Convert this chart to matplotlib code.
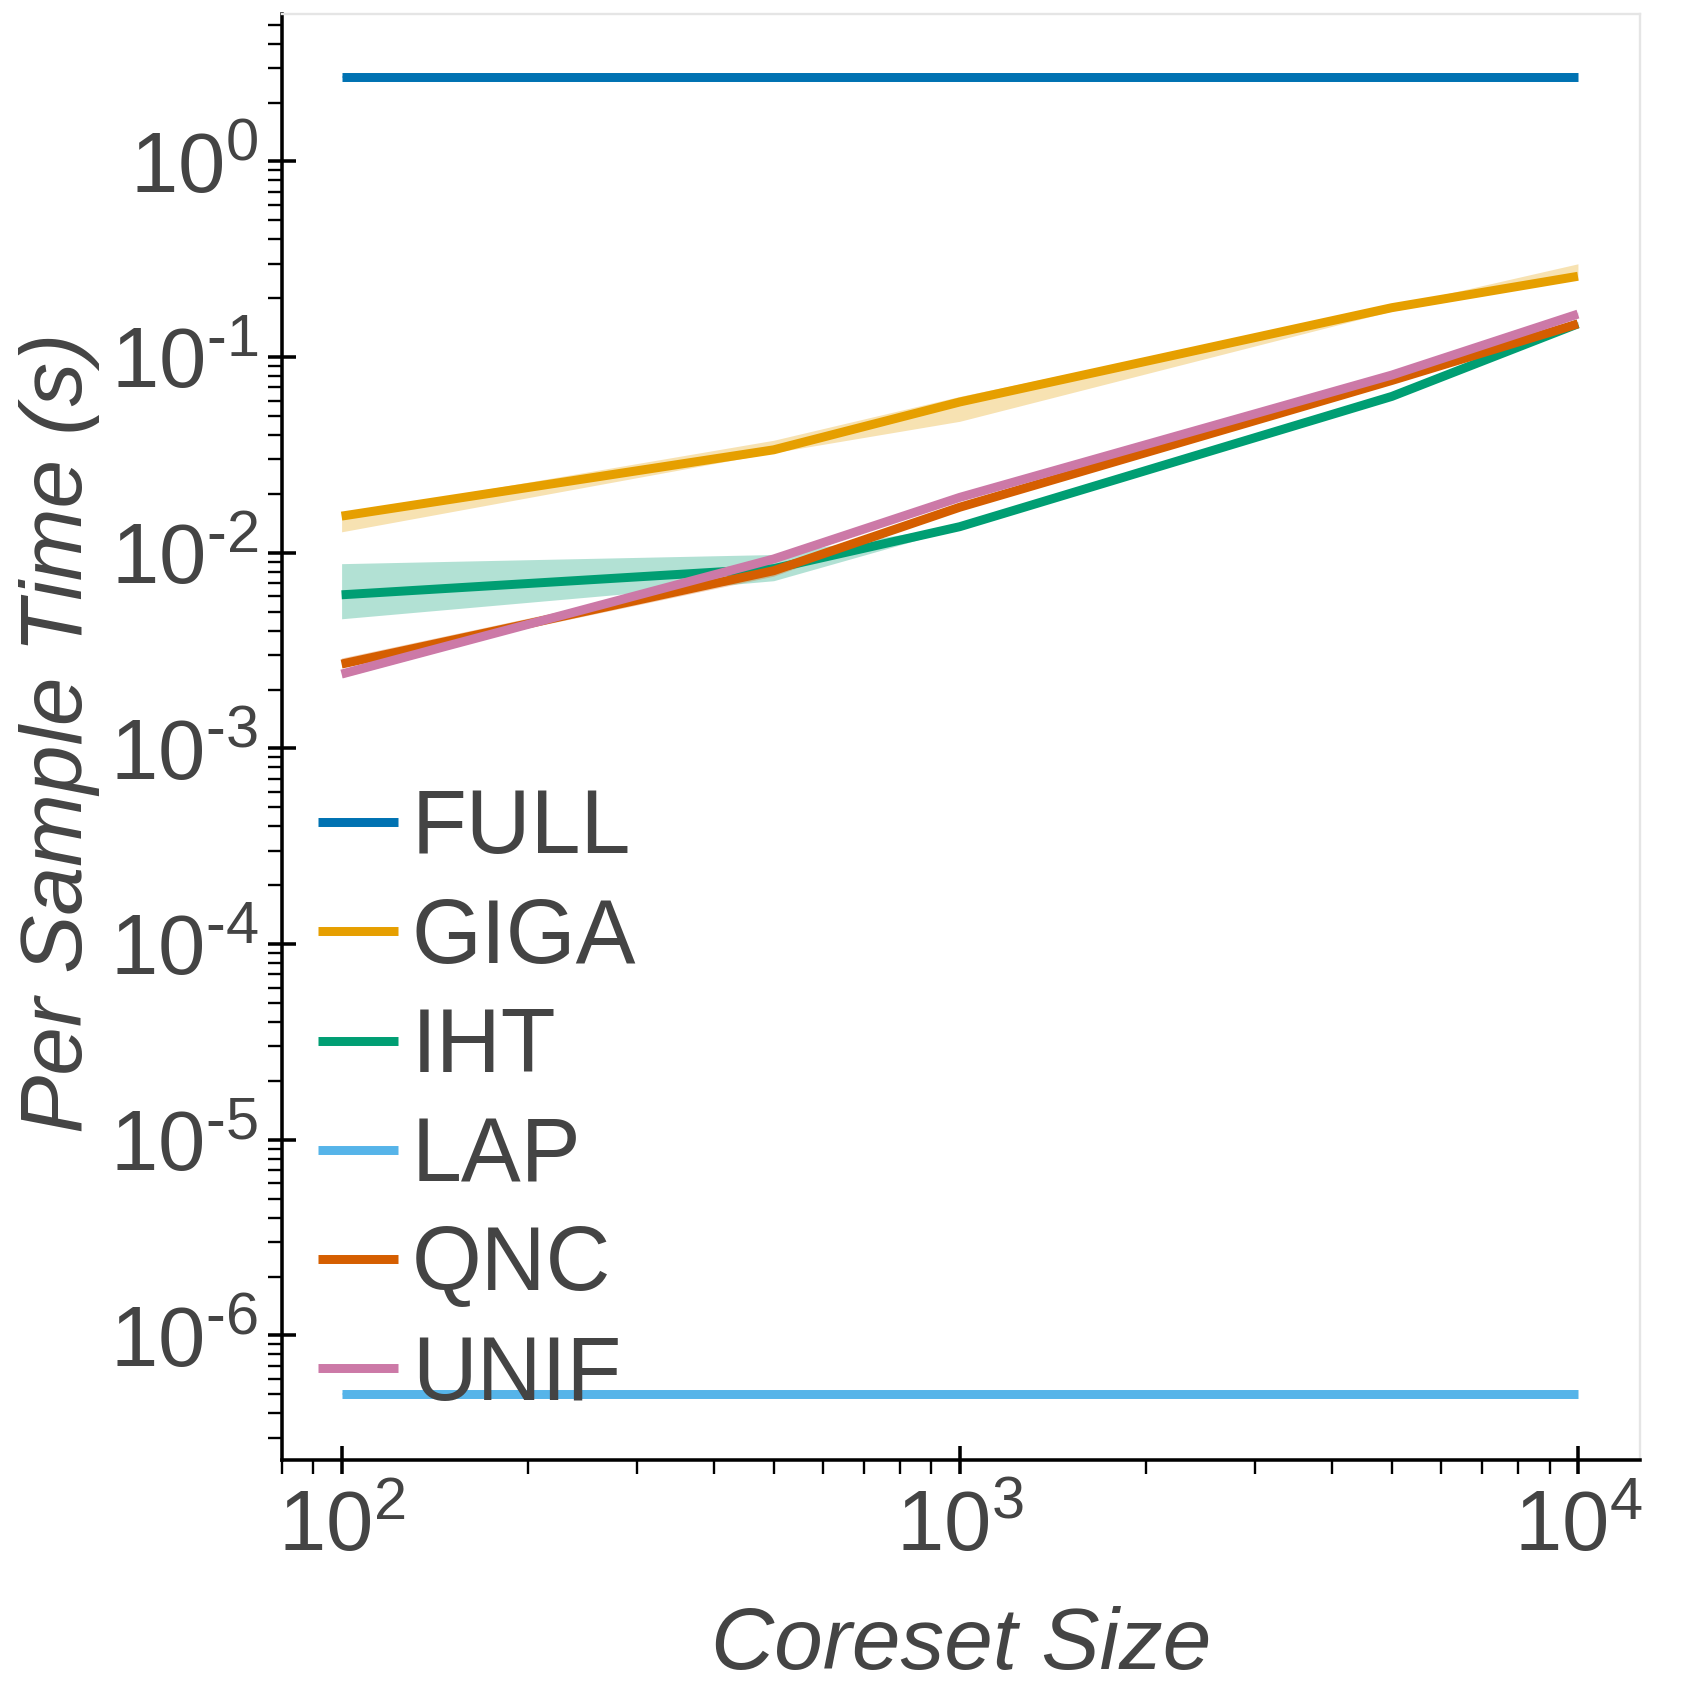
import numpy as np
import matplotlib
matplotlib.use("Agg")
import matplotlib.pyplot as plt
from matplotlib.ticker import LogLocator, FuncFormatter

plt.rcParams['font.family'] = ['Liberation Sans', 'DejaVu Sans']
plt.rcParams['mathtext.fontset'] = 'custom'
plt.rcParams['mathtext.rm'] = 'Liberation Sans'
plt.rcParams['mathtext.it'] = 'Liberation Sans:italic'

# data
sizes = [100, 500, 1000, 5000, 10000]
methods = ['FULL', 'GIGA', 'IHT', 'LAP', 'QNC', 'UNIF']
colors = ['#0072B2', '#E69F00', '#009E73', '#56B4E9', '#D55E00', '#CC79A7']

full = [2.7, 2.7, 2.7, 2.7, 2.7]
full_lo = [2.68, 2.68, 2.68, 2.68, 2.68]
full_hi = [2.72, 2.72, 2.72, 2.72, 2.72]

giga = [0.0154, 0.0336, 0.059, 0.179, 0.259]
giga_lo = [0.0128, 0.0325, 0.047, 0.172, 0.250]
giga_hi = [0.0158, 0.0376, 0.063, 0.182, 0.300]

iht = [0.0061, 0.0083, 0.0136, 0.063, 0.148]
iht_lo = [0.0046, 0.0072, 0.0134, 0.062, 0.146]
iht_hi = [0.0088, 0.0098, 0.0138, 0.064, 0.150]

lap = [5.0e-7, 5.0e-7, 5.0e-7, 5.0e-7, 5.0e-7]
lap_lo = [4.95e-7, 4.95e-7, 4.95e-7, 4.95e-7, 4.95e-7]
lap_hi = [5.05e-7, 5.05e-7, 5.05e-7, 5.05e-7, 5.05e-7]

qnc = [0.0027, 0.0081, 0.0171, 0.076, 0.148]
qnc_lo = [0.0026, 0.0076, 0.0168, 0.074, 0.145]
qnc_hi = [0.0029, 0.0086, 0.0174, 0.078, 0.152]

unif = [0.0024, 0.0093, 0.0192, 0.081, 0.166]
unif_lo = [0.0023, 0.0091, 0.0189, 0.080, 0.162]
unif_hi = [0.0025, 0.0095, 0.0195, 0.082, 0.170]

series = [(full, full_lo, full_hi), (giga, giga_lo, giga_hi), (iht, iht_lo, iht_hi),
          (lap, lap_lo, lap_hi), (qnc, qnc_lo, qnc_hi), (unif, unif_lo, unif_hi)]

text_col = '#444444'

fig = plt.figure(figsize=(10, 10), dpi=170)
ax = fig.add_axes([0.1657, 0.141, 0.799, 0.851])

for name, col, (m, lo, hi) in zip(methods, colors, series):
    ax.fill_between(sizes, lo, hi, color=col, alpha=0.3, linewidth=0)
    ax.plot(sizes, m, color=col, lw=3.8, label=name, solid_capstyle='butt')

ax.set_xscale('log')
ax.set_yscale('log')
ax.set_xlim(80, 12600)
ax.set_ylim(2.3e-7, 5.7)

def pow_fmt(v, pos):
    e = int(round(np.log10(v)))
    if e >= 0:
        return r'$\mathregular{10^{%d}}$' % e
    return r'$\mathregular{10^{\text{-}%d}}$' % (-e)

ax.yaxis.set_major_locator(LogLocator(base=10, numticks=20))
ax.yaxis.set_minor_locator(LogLocator(base=10, subs=np.arange(2, 10), numticks=20))
ax.xaxis.set_major_locator(LogLocator(base=10, numticks=20))
ax.xaxis.set_minor_locator(LogLocator(base=10, subs=np.arange(2, 10), numticks=20))
ax.xaxis.set_major_formatter(FuncFormatter(pow_fmt))
ax.yaxis.set_major_formatter(FuncFormatter(pow_fmt))
ax.yaxis.set_minor_formatter(plt.NullFormatter())
ax.xaxis.set_minor_formatter(plt.NullFormatter())

ax.tick_params(which='major', direction='inout', length=12, width=1.5, labelsize=36,
               colors='black', labelcolor=text_col)
ax.tick_params(which='minor', direction='out', length=6, width=1.0)
ax.tick_params(axis='y', pad=4)
ax.tick_params(axis='x', pad=6)

for s in ['top', 'right']:
    ax.spines[s].set_color('#e5e5e5')
    ax.spines[s].set_linewidth(1.0)
for s in ['left', 'bottom']:
    ax.spines[s].set_color('black')
    ax.spines[s].set_linewidth(1.5)

ax.set_xlabel('Coreset Size', fontsize=37, style='italic', color=text_col)
ax.set_ylabel('Per Sample Time (s)', fontsize=37, style='italic', color=text_col)
ax.xaxis.set_label_coords(0.5, -0.1005)
ax.yaxis.set_label_coords(-0.134, 0.503)

leg = ax.legend(loc='lower left', bbox_to_anchor=(0.0, 0.004), frameon=False,
                fontsize=38, handlelength=0.9, handletextpad=0.15, labelspacing=0.27,
                borderaxespad=0.0)
for t in leg.get_texts():
    t.set_color(text_col)
for h in leg.get_lines():
    h.set_linewidth(3.8)

fig.savefig('out.png', dpi=170)
